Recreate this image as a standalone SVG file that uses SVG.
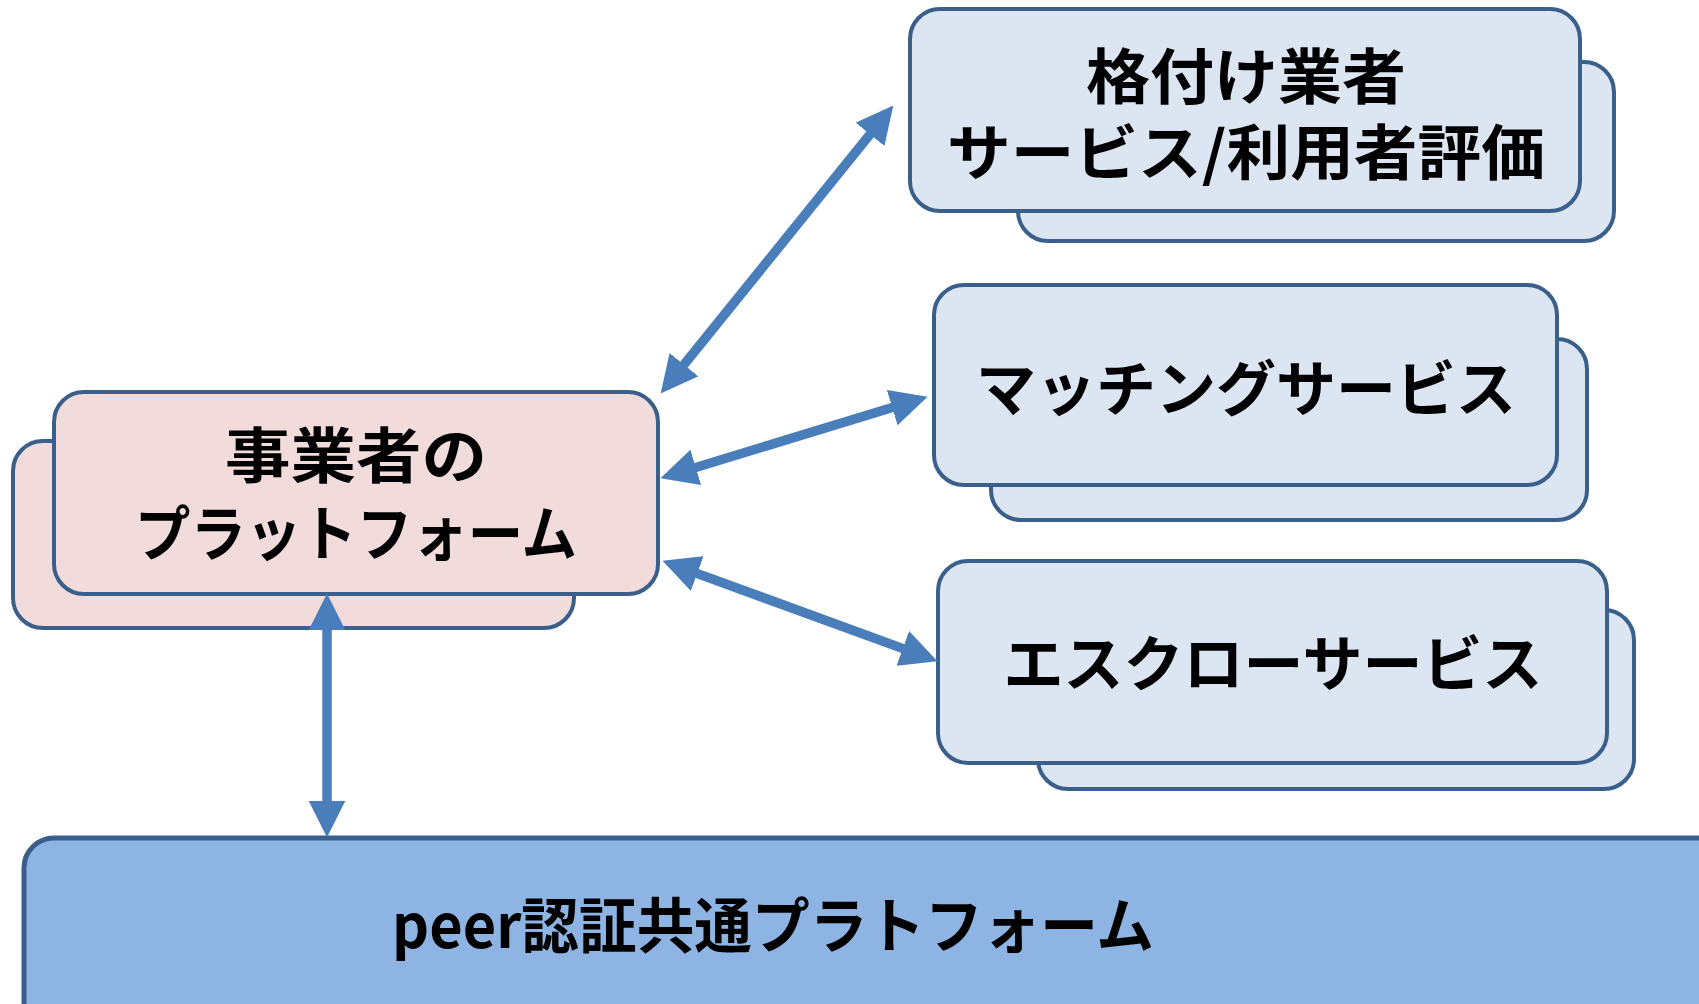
<svg xmlns="http://www.w3.org/2000/svg" width="1699" height="1004" viewBox="0 0 1699 1004">
<defs>
<style>
.blue{fill:#DCE6F2;stroke:#3A5F8B;stroke-width:4}
.pink{fill:#F2DCDB;stroke:#3A5F8B;stroke-width:4}
.base{fill:#8EB4E3;stroke:#3A5F8B;stroke-width:5}
.t{font-family:"Noto Sans CJK JP","Noto Sans",sans-serif;font-weight:bold;font-size:60px;fill:#000;text-anchor:middle}
.c{fill:none;stroke:#4A7EBB;stroke-width:9.5;marker-start:url(#ah);marker-end:url(#ah)}
</style>
<marker id="ah" viewBox="0 0 10 10" refX="4.44" refY="5" markerWidth="37" markerHeight="37" markerUnits="userSpaceOnUse" orient="auto-start-reverse">
<path d="M0,0 L10,5 L0,10 z" fill="#4A7EBB"/>
</marker>
</defs>
<rect width="1699" height="1004" fill="#fff"/>
<g id="base">
<rect class="base" x="24" y="838" width="1720" height="220" rx="30"/>
<text class="t" x="773" y="948" textLength="762" lengthAdjust="spacingAndGlyphs">peer認証共通プラトフォーム</text>
</g>
<g id="rating">
<rect class="blue" x="1018" y="62" width="596" height="179" rx="30"/>
<rect class="blue" x="910" y="9" width="670" height="202" rx="30"/>
<text class="t" x="1246" y="99" textLength="320" lengthAdjust="spacingAndGlyphs">格付け業者</text>
<text class="t" x="1246" y="175" textLength="598" lengthAdjust="spacingAndGlyphs">サービス/利用者評価</text>
</g>
<g id="matching">
<rect class="blue" x="991" y="339" width="596" height="181" rx="30"/>
<rect class="blue" x="934" y="285" width="623" height="200" rx="30"/>
<text class="t" x="1246" y="411">マッチングサービス</text>
</g>
<g id="escrow">
<rect class="blue" x="1038" y="610" width="596" height="179" rx="30"/>
<rect class="blue" x="938" y="561" width="669" height="202" rx="30"/>
<text class="t" x="1273" y="686">エスクローサービス</text>
</g>
<g id="platform">
<rect class="pink" x="13" y="441" width="561" height="187" rx="30"/>
<rect class="pink" x="54" y="392" width="604" height="202" rx="30"/>
<text class="t" x="356" y="478" textLength="262" lengthAdjust="spacingAndGlyphs">事業者の</text>
<text class="t" x="356" y="556" textLength="442" lengthAdjust="spacingAndGlyphs">プラットフォーム</text>
</g>
<g id="connectors">
<path class="c" d="M673.6,377.4 L880.4,121.6"/>
<path class="c" d="M680.1,472.2 L907.9,402.8"/>
<path class="c" d="M681.8,567.9 L918.2,654.1"/>
<path class="c" d="M327,614 L327,817"/>
</g>
</svg>
